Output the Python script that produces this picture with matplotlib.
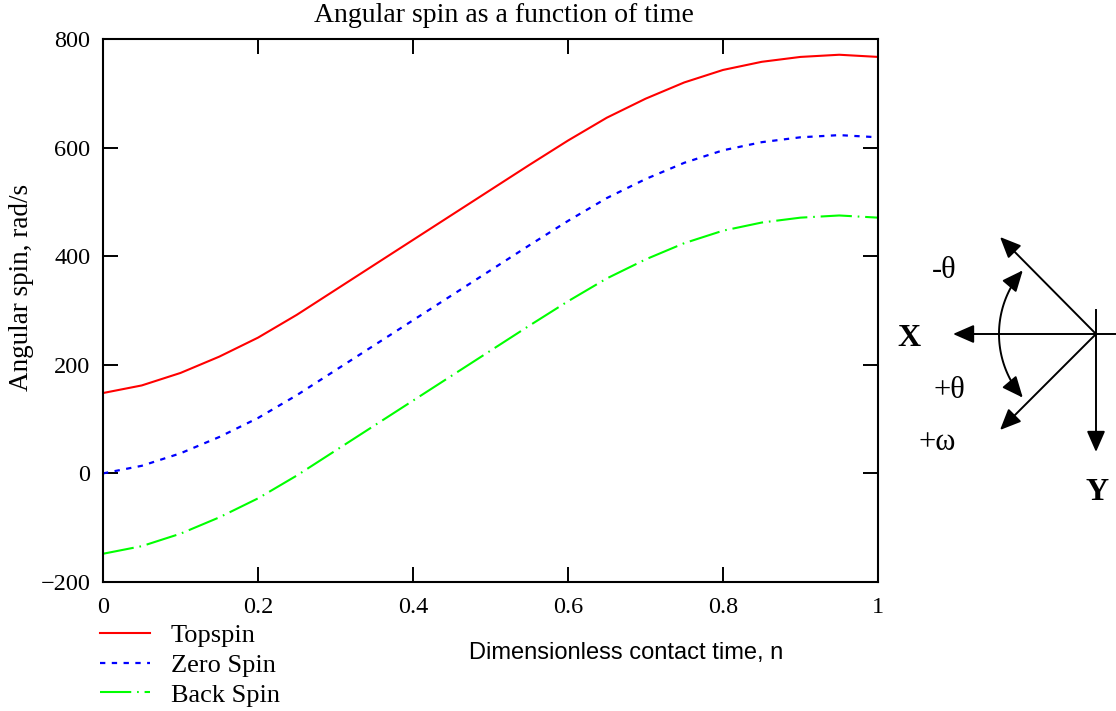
import matplotlib
matplotlib.use("Agg")
import matplotlib.pyplot as plt
import numpy as np
from matplotlib.patches import FancyArrowPatch
from matplotlib.path import Path

# values, n in steps of 0.05
n = [0.00, 0.05, 0.10, 0.15, 0.20, 0.25, 0.30, 0.35, 0.40, 0.45, 0.50,
     0.55, 0.60, 0.65, 0.70, 0.75, 0.80, 0.85, 0.90, 0.95, 1.00]
topspin = [148, 162, 185, 215, 250, 292, 338, 384, 430, 476, 522,
           568, 613, 655, 690, 720, 743, 758, 767, 771, 767]
zero_spin = [0, 14, 37, 67, 102, 144, 190, 236, 282, 328, 374,
             420, 465, 507, 542, 572, 595, 610, 619, 623, 619]
back_spin = [-148, -134, -111, -81, -46, -4, 42, 88, 134, 180, 226,
             272, 317, 359, 394, 424, 447, 462, 471, 475, 471]

x_ticks = [0, 0.2, 0.4, 0.6, 0.8, 1]
x_tick_labels = ["0", "0.2", "0.4", "0.6", "0.8", "1"]
y_ticks = [-200, 0, 200, 400, 600, 800]
y_tick_labels = ["\u2212200", "0", "200", "400", "600", "800"]

W, H = 1116, 711
SERIF = "Liberation Serif"
SANS = "Liberation Sans"

fig = plt.figure(figsize=(W / 100, H / 100), dpi=100)
ax = fig.add_axes([103 / W, 1 - 582 / H, 775 / W, 543 / H])

ax.plot(n, topspin, color="#ff0000", lw=1.5, label="Topspin")
ax.plot(n, zero_spin, color="#0000ff", lw=1.6, linestyle=(0, (2.4, 2.9)), label="Zero Spin")
ax.plot(n, back_spin, color="#00ff00", lw=1.5, linestyle=(0, (15, 2.8, 0.8, 2.8)), label="Back Spin")

ax.set_xlim(0, 1)
ax.set_ylim(-200, 800)
ax.set_xticks(x_ticks)
ax.set_xticklabels(x_tick_labels)
ax.set_yticks(y_ticks)
ax.set_yticklabels(y_tick_labels)
ax.tick_params(direction="in", length=11, width=1.4, top=True, right=True, labelsize=17.5)
ax.tick_params(axis="x", pad=11)
ax.tick_params(axis="y", pad=9)
for lab in ax.get_xticklabels() + ax.get_yticklabels():
    lab.set_fontfamily(SERIF)
for sp in ax.spines.values():
    sp.set_linewidth(1.5)

fig.text(504 / W, 1 - 16 / H, "Angular spin as a function of time", ha="center", va="center",
         fontsize=20, family=SERIF)
fig.text(22 / W, 1 - 287 / H, "Angular spin, rad/s", rotation=90, ha="center", va="center",
         fontsize=19.5, family=SERIF)
fig.text(626 / W, 1 - 653 / H, "Dimensionless contact time, n", ha="center", va="center",
         fontsize=17, family=SANS)

fig.legend(loc="upper left", bbox_to_anchor=(89 / W, 1 - 613 / H), frameon=False,
           prop={"family": SERIF, "size": 19}, handlelength=1.9, handletextpad=0.8,
           labelspacing=0.24, borderaxespad=0)

# coordinate sketch on the right, in figure pixels
ov = fig.add_axes([0, 0, 1, 1], zorder=5)
ov.set_xlim(0, W)
ov.set_ylim(H, 0)
ov.axis("off")

ox, oy = 1096, 334
arrow_kw = dict(arrowstyle="-|>,head_length=0.8,head_width=0.35", mutation_scale=16,
                color="black", lw=1.4, shrinkA=0, shrinkB=0)


def arrow(x0, y0, x1, y1):
    ov.add_patch(FancyArrowPatch((x0, y0), (x1, y1), **arrow_kw))


arrow(ox, oy, 953, oy)
arrow(ox, oy, ox, 452)
arrow(ox, oy, 1000, 237)
arrow(ox, oy, 1000, 430)
ov.plot([ox, W], [oy, oy], color="black", lw=1.4)
ov.plot([ox, ox], [310, oy], color="black", lw=1.4)

r = 97
for sign in (-1, 1):
    phi = np.radians(np.linspace(0, 41, 30))
    verts = np.column_stack([ox - r * np.cos(phi), oy + sign * r * np.sin(phi)])
    ov.add_patch(FancyArrowPatch(path=Path(verts), **arrow_kw))

ov.text(944, 270, "-\u03b8", ha="center", va="center", fontsize=22, family=SERIF)
ov.text(909, 338, "X", ha="center", va="center", fontsize=23, family=SERIF, weight="bold")
ov.text(949, 390, "+\u03b8", ha="center", va="center", fontsize=22, family=SERIF)
ov.text(937, 442, "+\u03c9", ha="center", va="center", fontsize=22, family=SERIF)
ov.text(1097, 493, "Y", ha="center", va="center", fontsize=23, family=SERIF, weight="bold")

fig.savefig("out.png", dpi=100)
